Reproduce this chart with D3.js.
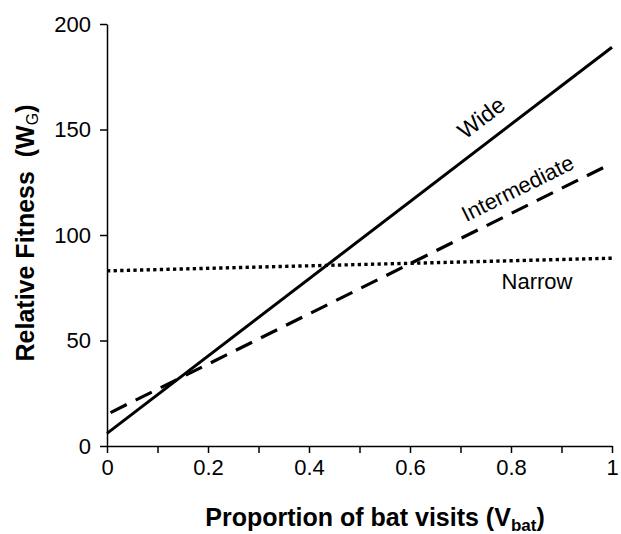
<!DOCTYPE html>
<html>
<head>
<meta charset="utf-8">
<script src="https://cdn.jsdelivr.net/npm/d3@7"></script>
<style>
  body { margin: 0; background: #fff; }
  text { font-family: "Liberation Sans", Arial, sans-serif; fill: #000; }
</style>
</head>
<body>
<div id="chart"></div>
<script>
// line end points (x = proportion, y = fitness)
var xVals = [0, 1];
var wideVals = [6, 189];
var intermediateVals = [15, 134];
var narrowVals = [83, 89];
var xTicks = [0, 0.1, 0.2, 0.3, 0.4, 0.5, 0.6, 0.7, 0.8, 0.9, 1];
var yTicks = [0, 50, 100, 150, 200];

var width = 621, height = 534;
var margin = {left: 107, right: 9, top: 24, bottom: 88};

var svg = d3.select("#chart").append("svg")
    .attr("width", width)
    .attr("height", height);

var x = d3.scaleLinear().domain([0, 1]).range([margin.left, width - margin.right]);
var y = d3.scaleLinear().domain([0, 200]).range([height - margin.bottom, margin.top]);

// axes
var xAxis = svg.append("g")
    .attr("transform", "translate(0," + y(0) + ")")
    .call(d3.axisBottom(x).tickValues(xTicks).tickSize(7).tickSizeOuter(0)
      .tickFormat(function(d) {
        var r = Math.round(d * 10);
        return r % 2 === 0 ? d3.format("")(r / 10) : "";
      }));
var yAxis = svg.append("g")
    .attr("transform", "translate(" + x(0) + ",0)")
    .call(d3.axisLeft(y).tickValues(yTicks).tickSize(7).tickSizeOuter(0));

[xAxis, yAxis].forEach(function(a) {
  a.select(".domain").attr("stroke", "#000").attr("stroke-width", 1.5);
  a.selectAll(".tick line").attr("stroke", "#000").attr("stroke-width", 1.5);
  a.selectAll(".tick text").style("font-size", "22px").style("font-family", "Liberation Sans, Arial, sans-serif");
});
xAxis.selectAll(".tick text").attr("dy", 0).attr("y", 29);
yAxis.selectAll(".tick text").attr("x", -16);

// lines
var line = d3.line()
    .x(function(d) { return x(d[0]); })
    .y(function(d) { return y(d[1]); });

function pts(vals) { return xVals.map(function(v, i) { return [v, vals[i]]; }); }

svg.append("path").datum(pts(narrowVals)).attr("d", line)
    .attr("fill", "none").attr("stroke", "#000").attr("stroke-width", 3.4)
    .attr("stroke-dasharray", "3.3,3.3");
svg.append("path").datum(pts(intermediateVals)).attr("d", line)
    .attr("fill", "none").attr("stroke", "#000").attr("stroke-width", 3.2)
    .attr("stroke-dasharray", "18,10").attr("stroke-dashoffset", -4);
svg.append("path").datum(pts(wideVals)).attr("d", line)
    .attr("fill", "none").attr("stroke", "#000").attr("stroke-width", 3);

// line labels
function angle(vals) {
  return Math.atan2(y(vals[1]) - y(vals[0]), x(1) - x(0)) * 180 / Math.PI;
}
svg.append("text")
    .attr("transform", "translate(486,124) rotate(" + angle(wideVals) + ")")
    .attr("text-anchor", "middle")
    .style("font-size", "23px")
    .text("Wide");
svg.append("text")
    .attr("transform", "translate(521,195) rotate(" + angle(intermediateVals) + ")")
    .attr("text-anchor", "middle")
    .style("font-size", "22px")
    .text("Intermediate");
svg.append("text")
    .attr("x", 537)
    .attr("y", 289)
    .attr("text-anchor", "middle")
    .style("font-size", "22px")
    .text("Narrow");

// axis titles
var xt = svg.append("text")
    .attr("x", 375)
    .attr("y", 526)
    .attr("text-anchor", "middle")
    .style("font-size", "25px")
    .style("font-weight", "bold");
xt.append("tspan").text("Proportion of bat visits (V");
xt.append("tspan").attr("dy", 5).style("font-size", "17px").text("bat");
xt.append("tspan").attr("dy", -5).text(")");

var yt = svg.append("text")
    .attr("transform", "translate(34,233) rotate(-90)")
    .attr("text-anchor", "middle")
    .style("font-size", "25px")
    .style("font-weight", "bold")
    .attr("xml:space", "preserve");
yt.append("tspan").text("Relative Fitness  (W");
yt.append("tspan").attr("dy", 4).style("font-size", "16px").style("font-weight", "normal").text("G");
yt.append("tspan").attr("dy", -4).text(")");
</script>
</body>
</html>
